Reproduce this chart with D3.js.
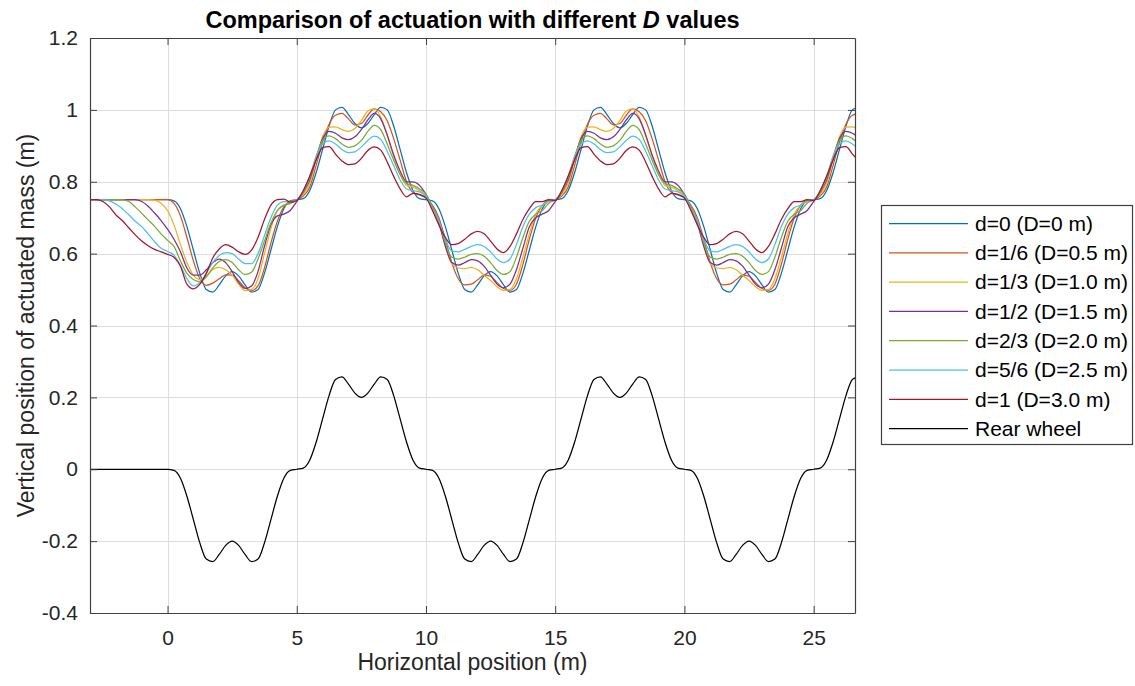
<!DOCTYPE html>
<html><head><meta charset="utf-8">
<script src="https://cdn.jsdelivr.net/npm/d3@7"></script>
<style>body{margin:0;background:#fff;} svg{display:block;font-family:"Liberation Sans",Arial,Helvetica,sans-serif;}</style>
</head><body><svg id="chart" width="1135" height="686"></svg>
<script>
// Horizontal sample positions (m)
const xPos = [-3,-2.75,-2.5,-2.25,-2,-1.75,-1.5,-1.25,-1,-0.75,-0.5,-0.25,
0,0.25,0.5,0.75,1,1.25,1.5,1.75,2,2.25,2.5,2.75,3,3.25,3.5,3.75,4,4.25,4.5,4.75,
5,5.25,5.5,5.75,6,6.25,6.5,6.75,7,7.25,7.5,7.75,8,8.25,8.5,8.75,9,9.25,9.5,9.75,
10,10.25,10.5,10.75,11,11.25,11.5,11.75,12,12.25,12.5,12.75,13,13.25,13.5,13.75,14,14.25,14.5,14.75,
15,15.25,15.5,15.75,16,16.25,16.5,16.75,17,17.25,17.5,17.75,18,18.25,18.5,18.75,19,19.25,19.5,19.75,
20,20.25,20.5,20.75,21,21.25,21.5,21.75,22,22.25,22.5,22.75,23,23.25,23.5,23.75,24,24.25,24.5,24.75,
25,25.25,25.5,25.75,26,26.25,26.5,26.75];

const d0 = [0.75,0.75,0.75,0.75,0.75,0.75,0.75,0.75,0.75,0.75,0.75,0.75,
0.75,0.747,0.725,0.675,0.61,0.545,0.5,0.493,0.513,0.538,0.55,0.538,0.513,0.493,0.5,0.545,0.61,0.675,0.725,0.747,
0.75,0.753,0.775,0.825,0.89,0.955,1.0,1.007,0.987,0.962,0.95,0.962,0.987,1.007,1.0,0.955,0.89,0.825,0.775,0.753,
0.75,0.747,0.725,0.675,0.61,0.545,0.5,0.493,0.513,0.538,0.55,0.538,0.513,0.493,0.5,0.545,0.61,0.675,0.725,0.747,
0.75,0.753,0.775,0.825,0.89,0.955,1.0,1.007,0.987,0.962,0.95,0.962,0.987,1.007,1.0,0.955,0.89,0.825,0.775,0.753,
0.75,0.747,0.725,0.675,0.61,0.545,0.5,0.493,0.513,0.538,0.55,0.538,0.513,0.493,0.5,0.545,0.61,0.675,0.725,0.747,
0.75,0.753,0.775,0.825,0.89,0.955,1.0,1.007];

const d16 = [0.75,0.75,0.75,0.75,0.75,0.75,0.75,0.75,0.75,0.75,0.75,0.75,
0.75,0.74,0.705,0.645,0.58,0.53,0.512,0.518,0.53,0.541,0.54,0.525,0.505,0.497,0.51,0.56,0.63,0.69,0.73,0.745,
0.75,0.76,0.785,0.845,0.91,0.96,0.985,0.99,0.975,0.958,0.962,0.985,1.003,0.995,0.97,0.92,0.86,0.8,0.77,0.763,
0.755,0.735,0.7,0.64,0.575,0.53,0.513,0.515,0.527,0.54,0.537,0.52,0.503,0.498,0.515,0.57,0.64,0.7,0.735,0.748,
0.75,0.76,0.785,0.845,0.91,0.96,0.985,0.99,0.975,0.958,0.962,0.985,1.003,0.995,0.97,0.92,0.86,0.8,0.77,0.763,
0.755,0.735,0.7,0.64,0.575,0.53,0.513,0.515,0.527,0.54,0.537,0.52,0.503,0.498,0.515,0.57,0.64,0.7,0.735,0.748,
0.75,0.76,0.785,0.845,0.91,0.96,0.985,0.99];

const d13 = [0.75,0.75,0.75,0.75,0.75,0.75,0.75,0.75,0.75,0.75,0.749,0.74,
0.72,0.68,0.625,0.575,0.54,0.528,0.538,0.556,0.562,0.555,0.54,0.515,0.497,0.5,0.53,0.6,0.67,0.72,0.735,0.74,
0.75,0.765,0.795,0.86,0.925,0.952,0.953,0.945,0.94,0.948,0.97,0.997,1.003,0.98,0.93,0.87,0.82,0.79,0.785,0.775,
0.76,0.73,0.69,0.625,0.572,0.56,0.558,0.562,0.555,0.54,0.525,0.508,0.498,0.5,0.53,0.59,0.655,0.71,0.735,0.745,
0.75,0.765,0.795,0.86,0.925,0.952,0.953,0.945,0.94,0.948,0.97,0.997,1.003,0.98,0.93,0.87,0.82,0.79,0.785,0.775,
0.76,0.73,0.69,0.625,0.572,0.56,0.558,0.562,0.555,0.54,0.525,0.508,0.498,0.5,0.53,0.59,0.655,0.71,0.735,0.745,
0.75,0.765,0.795,0.86,0.925,0.952,0.953,0.945];

const d12 = [0.75,0.75,0.75,0.75,0.75,0.75,0.75,0.75,0.745,0.732,0.713,0.692,
0.668,0.64,0.605,0.56,0.54,0.54,0.555,0.575,0.585,0.575,0.55,0.52,0.503,0.51,0.55,0.62,0.68,0.705,0.71,0.72,
0.745,0.77,0.805,0.865,0.92,0.94,0.935,0.922,0.917,0.925,0.945,0.972,0.99,0.975,0.93,0.875,0.83,0.8,0.8,0.79,
0.765,0.73,0.685,0.62,0.575,0.568,0.575,0.583,0.58,0.565,0.54,0.515,0.505,0.515,0.555,0.615,0.675,0.7,0.71,0.72,
0.745,0.77,0.805,0.865,0.92,0.94,0.935,0.922,0.917,0.925,0.945,0.972,0.99,0.975,0.93,0.875,0.83,0.8,0.8,0.79,
0.765,0.73,0.685,0.62,0.575,0.568,0.575,0.583,0.58,0.565,0.54,0.515,0.505,0.515,0.555,0.615,0.675,0.7,0.71,0.72,
0.745,0.77,0.805,0.865,0.92,0.94,0.935,0.922];

const d23 = [0.75,0.75,0.75,0.75,0.75,0.75,0.745,0.73,0.712,0.694,0.676,0.655,
0.637,0.62,0.58,0.545,0.528,0.522,0.535,0.56,0.578,0.583,0.575,0.555,0.542,0.548,0.585,0.635,0.685,0.72,0.735,0.74,
0.75,0.77,0.81,0.87,0.915,0.928,0.92,0.905,0.896,0.9,0.915,0.94,0.957,0.945,0.905,0.86,0.82,0.795,0.79,0.78,
0.765,0.73,0.69,0.63,0.59,0.585,0.59,0.598,0.6,0.593,0.575,0.553,0.542,0.55,0.59,0.645,0.69,0.71,0.72,0.74,
0.75,0.77,0.81,0.87,0.915,0.928,0.92,0.905,0.896,0.9,0.915,0.94,0.957,0.945,0.905,0.86,0.82,0.795,0.79,0.78,
0.765,0.73,0.69,0.63,0.59,0.585,0.59,0.598,0.6,0.593,0.575,0.553,0.542,0.55,0.59,0.645,0.69,0.71,0.72,0.74,
0.75,0.77,0.81,0.87,0.915,0.928,0.92,0.905];

const d56 = [0.75,0.75,0.75,0.747,0.738,0.725,0.708,0.69,0.675,0.655,0.633,0.615,
0.606,0.596,0.567,0.53,0.51,0.52,0.545,0.575,0.595,0.603,0.6,0.585,0.572,0.572,0.6,0.65,0.7,0.735,0.745,0.745,
0.75,0.775,0.815,0.87,0.905,0.914,0.905,0.89,0.881,0.883,0.897,0.915,0.927,0.918,0.885,0.845,0.805,0.78,0.775,0.772,
0.76,0.725,0.69,0.64,0.607,0.605,0.612,0.62,0.625,0.62,0.605,0.585,0.575,0.585,0.625,0.675,0.71,0.728,0.735,0.745,
0.75,0.775,0.815,0.87,0.905,0.914,0.905,0.89,0.881,0.883,0.897,0.915,0.927,0.918,0.885,0.845,0.805,0.78,0.775,0.772,
0.76,0.725,0.69,0.64,0.607,0.605,0.612,0.62,0.625,0.62,0.605,0.585,0.575,0.585,0.625,0.675,0.71,0.728,0.735,0.745,
0.75,0.775,0.815,0.87,0.905,0.914,0.905,0.89];

const d1 = [0.75,0.75,0.745,0.73,0.708,0.692,0.672,0.652,0.635,0.622,0.612,0.605,
0.598,0.59,0.565,0.515,0.502,0.515,0.545,0.588,0.613,0.625,0.618,0.605,0.598,0.61,0.645,0.695,0.735,0.75,0.752,0.743,
0.748,0.775,0.815,0.86,0.895,0.898,0.877,0.858,0.848,0.85,0.865,0.887,0.897,0.888,0.855,0.815,0.78,0.758,0.768,0.765,
0.755,0.72,0.68,0.645,0.625,0.628,0.64,0.655,0.662,0.655,0.635,0.613,0.603,0.62,0.655,0.695,0.725,0.745,0.745,0.75,
0.748,0.775,0.815,0.86,0.895,0.898,0.877,0.858,0.848,0.85,0.865,0.887,0.897,0.888,0.855,0.815,0.78,0.758,0.768,0.765,
0.755,0.72,0.68,0.645,0.625,0.628,0.64,0.655,0.662,0.655,0.635,0.613,0.603,0.62,0.655,0.695,0.725,0.745,0.745,0.75,
0.748,0.775,0.815,0.86,0.895,0.898,0.877,0.858];

const rearWheel = [0,0,0,0,0,0,0,0,0,0,0,0,
0,-0.003,-0.025,-0.075,-0.14,-0.205,-0.25,-0.257,-0.237,-0.212,-0.2,-0.212,-0.237,-0.257,-0.25,-0.205,-0.14,-0.075,-0.025,-0.003,
0,0.003,0.025,0.075,0.14,0.205,0.25,0.257,0.237,0.212,0.2,0.212,0.237,0.257,0.25,0.205,0.14,0.075,0.025,0.003,
0,-0.003,-0.025,-0.075,-0.14,-0.205,-0.25,-0.257,-0.237,-0.212,-0.2,-0.212,-0.237,-0.257,-0.25,-0.205,-0.14,-0.075,-0.025,-0.003,
0,0.003,0.025,0.075,0.14,0.205,0.25,0.257,0.237,0.212,0.2,0.212,0.237,0.257,0.25,0.205,0.14,0.075,0.025,0.003,
0,-0.003,-0.025,-0.075,-0.14,-0.205,-0.25,-0.257,-0.237,-0.212,-0.2,-0.212,-0.237,-0.257,-0.25,-0.205,-0.14,-0.075,-0.025,-0.003,
0,0.003,0.025,0.075,0.14,0.205,0.25,0.257];

const seriesLabels = ["d=0 (D=0 m)","d=1/6 (D=0.5 m)","d=1/3 (D=1.0 m)","d=1/2 (D=1.5 m)","d=2/3 (D=2.0 m)","d=5/6 (D=2.5 m)","d=1 (D=3.0 m)","Rear wheel"];
const seriesColors = ["#0072BD","#D95319","#EDB120","#7E2F8E","#77AC30","#4DBEEE","#A2142F","#000000"];
const seriesValues = [d0, d16, d13, d12, d23, d56, d1, rearWheel];

const xTicks = [0,5,10,15,20,25];
const xTickLabels = ["0","5","10","15","20","25"];
const yTicks = [-0.4,-0.2,0,0.2,0.4,0.6,0.8,1,1.2];
const yTickLabels = ["-0.4","-0.2","0","0.2","0.4","0.6","0.8","1","1.2"];

const L = 90, R = 855, T = 38, B = 613;
const svg = d3.select("#chart");
const x = d3.scaleLinear().domain([-3, 26.6]).range([L, R]);
const y = d3.scaleLinear().domain([-0.4, 1.2]).range([B, T]);

svg.append("rect").attr("x",0).attr("y",0).attr("width",1135).attr("height",686).attr("fill","#fff");

// grid
const grid = svg.append("g").attr("stroke","#dedede").attr("stroke-width",1);
xTicks.forEach(t => grid.append("line").attr("x1",Math.round(x(t))+0.5).attr("x2",Math.round(x(t))+0.5).attr("y1",T).attr("y2",B));
yTicks.forEach(t => grid.append("line").attr("x1",L).attr("x2",R).attr("y1",Math.round(y(t))+0.5).attr("y2",Math.round(y(t))+0.5));

svg.append("clipPath").attr("id","clip").append("rect").attr("x",L).attr("y",T).attr("width",R-L).attr("height",B-T);

const line = d3.line().x(d => x(d[0])).y(d => y(d[1])).curve(d3.curveMonotoneX);
const plot = svg.append("g").attr("clip-path","url(#clip)");
seriesValues.forEach((vals, i) => {
  plot.append("path")
    .datum(xPos.map((xv, k) => [xv, vals[k]]))
    .attr("fill","none").attr("stroke",seriesColors[i]).attr("stroke-width",1.25)
    .attr("stroke-linejoin","round").attr("d",line);
});

// axes with D3 axis generators
const axisColor = "#404040";
const fs = 21;
const bottomAxis = d3.axisBottom(x).tickValues(xTicks).tickFormat((d,i)=>xTickLabels[i]).tickSizeInner(-7).tickSizeOuter(0).tickPadding(17);
const gB = svg.append("g").attr("transform",`translate(0,${B})`).call(bottomAxis);
const topAxis = d3.axisTop(x).tickValues(xTicks).tickFormat("").tickSizeInner(-7).tickSizeOuter(0);
const gT = svg.append("g").attr("transform",`translate(0,${T})`).call(topAxis);
const leftAxis = d3.axisLeft(y).tickValues(yTicks).tickFormat((d,i)=>yTickLabels[i]).tickSizeInner(-7).tickSizeOuter(0).tickPadding(12);
const gL = svg.append("g").attr("transform",`translate(${L},0)`).call(leftAxis);
const rightAxis = d3.axisRight(y).tickValues(yTicks).tickFormat("").tickSizeInner(-7).tickSizeOuter(0);
const gR = svg.append("g").attr("transform",`translate(${R},0)`).call(rightAxis);
[gB,gT,gL,gR].forEach(g => {
  g.select(".domain").attr("stroke",axisColor).attr("stroke-width",1.2);
  g.selectAll(".tick line").attr("stroke",axisColor).attr("stroke-width",1);
  g.selectAll(".tick text").attr("fill","#262626").style("font-size",fs+"px").style("font-family",'"Liberation Sans",Arial,sans-serif');
});
gB.selectAll(".tick text").attr("dy","0.71em");

// labels
svg.append("text").attr("x",(L+R)/2).attr("y",670).attr("text-anchor","middle")
  .attr("fill","#262626").style("font-size","23px").text("Horizontal position (m)");
svg.append("text").attr("transform",`translate(34,${(T+B)/2}) rotate(-90)`).attr("text-anchor","middle")
  .attr("fill","#262626").style("font-size","23px").text("Vertical position of actuated mass (m)");
const title = svg.append("text").attr("x",(L+R)/2).attr("y",28).attr("text-anchor","middle")
  .attr("fill","#000").style("font-size","23.5px").style("font-weight","bold");
title.append("tspan").text("Comparison of actuation with different ");
title.append("tspan").style("font-style","italic").text("D");
title.append("tspan").text(" values");

// legend
const lg = svg.append("g");
lg.append("rect").attr("x",881.5).attr("y",205.5).attr("width",251).attr("height",239)
  .attr("fill","#fff").attr("stroke","#404040").attr("stroke-width",1.2);
seriesLabels.forEach((lab, i) => {
  const yy = 223.5 + i*29.3;
  lg.append("line").attr("x1",889).attr("x2",968).attr("y1",yy).attr("y2",yy)
    .attr("stroke",seriesColors[i]).attr("stroke-width",1.25);
  lg.append("text").attr("x",975).attr("y",yy).attr("dy","0.35em").attr("fill","#000")
    .style("font-size","21px").text(lab);
});
</script></body></html>
